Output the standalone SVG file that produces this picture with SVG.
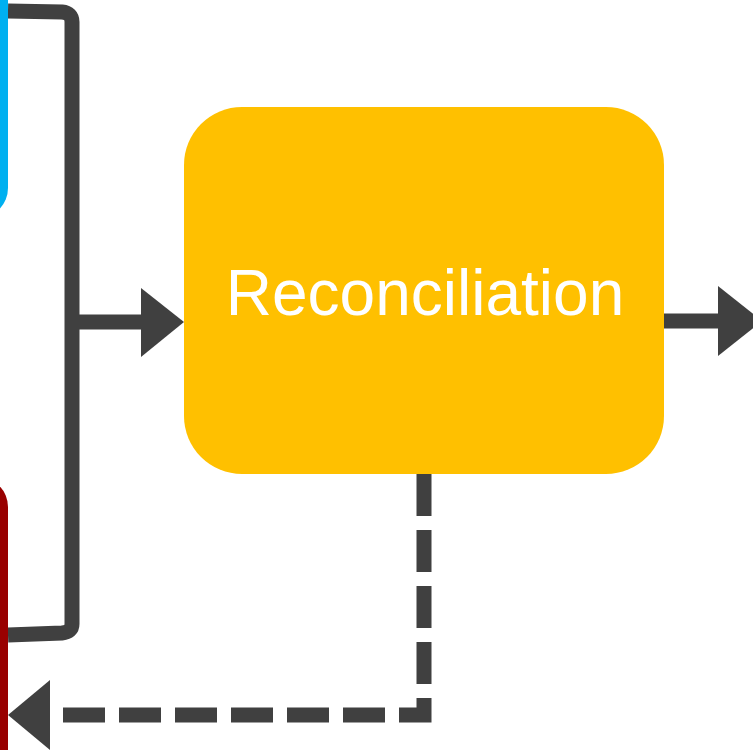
<svg xmlns="http://www.w3.org/2000/svg" width="753" height="750" viewBox="0 0 753 750">
<style>
.ln{fill:none;stroke:#404040;stroke-width:15}
.hd{fill:#404040}
.lbl{font-family:"Liberation Sans",Arial,sans-serif;font-size:64px;fill:#FFFFFF}
</style>
<rect width="753" height="750" fill="#FFFFFF"/>
<g id="connectors">
<path class="ln" d="M8 11 L62 12 Q72 13 72 22 L72 624 Q72 632 62 633 L8 635" stroke-width="14"/>
<line class="ln" x1="72" y1="322" x2="145" y2="322"/>
<polygon class="hd" points="141,288 184,322 141,357"/>
<line class="ln" x1="664" y1="321" x2="722" y2="321"/>
<polygon class="hd" points="718,286 762,321 718,356"/>
<path class="ln" d="M424 474 L424 715 L50 715" stroke-width="14" stroke-dasharray="42 14"/>
<polygon class="hd" points="50,680 8,715 50,750"/>
</g>
<g id="blue-node"><rect x="-200" y="-50" width="208" height="268" rx="30" fill="#00B0F0"/></g>
<g id="red-node"><rect x="-200" y="477" width="208" height="400" rx="30" fill="#990000"/></g>
<g id="reconciliation">
<rect x="184" y="107" width="480" height="367" rx="58" fill="#FFC000"/>
<text class="lbl" x="425" y="315" text-anchor="middle">Reconciliation</text>
</g>
</svg>
